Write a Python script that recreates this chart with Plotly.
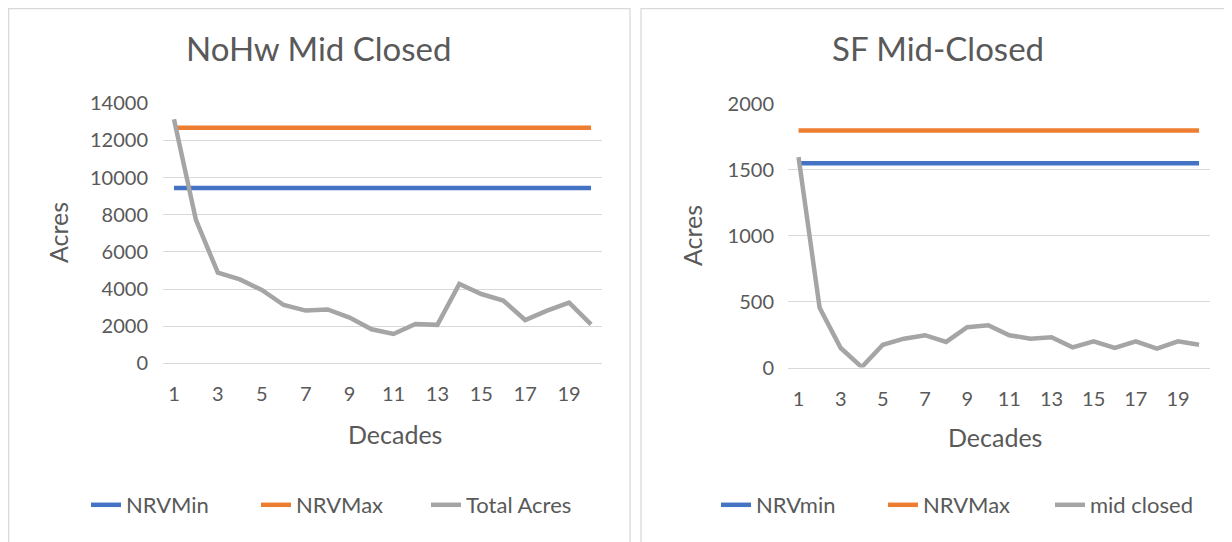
import plotly.graph_objects as go

# page body has an 8px margin; the figure fills the rest of the 1232x542 window
OFF = 8
W, H = 1232 - OFF, 542 - OFF

decades = list(range(1, 21))

# Left chart: NoHw Mid Closed
nohw_nrv_min = [9440] * 20
nohw_nrv_max = [12680] * 20
nohw_total_acres = [13140, 7720, 4880, 4520, 3950, 3140, 2840, 2900, 2460, 1830,
                    1580, 2120, 2070, 4270, 3730, 3380, 2330, 2840, 3270, 2100]

# Right chart: SF Mid-Closed
sf_nrv_min = [1550] * 20
sf_nrv_max = [1800] * 20
sf_mid_closed = [1597, 454, 148, 3, 173, 219, 245, 194, 306, 321,
                 245, 219, 230, 153, 199, 148, 199, 143, 199, 173]

left_ticks = [0, 2000, 4000, 6000, 8000, 10000, 12000, 14000]
right_ticks = [0, 500, 1000, 1500, 2000]
x_tick_vals = list(range(1, 21, 2))

BLUE, ORANGE, GRAY = "#4472C4", "#ED7D31", "#A5A5A5"
TEXT = "#595959"
GRID = "#D9D9D9"
FONT = "Lato"


def px(x):
    return (x - OFF) / W


def py(y):
    return 1 - (y - OFF) / H


fig = go.Figure()

series = [
    ("NRVMin", nohw_nrv_min, BLUE, "x", "y", "legend"),
    ("NRVMax", nohw_nrv_max, ORANGE, "x", "y", "legend"),
    ("Total Acres", nohw_total_acres, GRAY, "x", "y", "legend"),
    ("NRVmin", sf_nrv_min, BLUE, "x2", "y2", "legend2"),
    ("NRVMax", sf_nrv_max, ORANGE, "x2", "y2", "legend2"),
    ("mid closed", sf_mid_closed, GRAY, "x2", "y2", "legend2"),
]
for name, vals, color, xa, ya, lg in series:
    fig.add_trace(go.Scatter(
        x=decades, y=vals, name=name, mode="lines",
        line=dict(color=color, width=4.5),
        xaxis=xa, yaxis=ya, legend=lg, hoverinfo="skip",
    ))

axis_font = dict(family=FONT, size=20, color=TEXT)

xcommon = dict(
    range=[0.5, 20.5], tickmode="array", tickvals=x_tick_vals,
    ticktext=[str(v) for v in x_tick_vals],
    showgrid=False, zeroline=False, showline=True, linecolor=GRID, linewidth=1.3,
    ticks="", tickfont=axis_font, ticklabelstandoff=13, fixedrange=True,
    automargin=False,
)
ycommon = dict(
    tickmode="array", showgrid=True, gridcolor=GRID, gridwidth=1.3,
    zeroline=False, showline=False, ticks="", tickfont=axis_font,
    fixedrange=True, automargin=False,
)

fig.update_layout(
    width=W, height=H,
    margin=dict(l=0, r=0, t=0, b=0, autoexpand=False),
    paper_bgcolor="white", plot_bgcolor="white",
    showlegend=True,
    xaxis=dict(domain=[px(163), px(602)], anchor="y", **xcommon),
    yaxis=dict(domain=[py(363.3), py(103.3)], anchor="x", range=[0, 14000],
               tickvals=left_ticks, ticktext=[str(v) for v in left_ticks],
               ticklabelstandoff=14, **ycommon),
    xaxis2=dict(domain=[px(788), px(1209.6)], anchor="y2", **xcommon),
    yaxis2=dict(domain=[py(367.5), py(104.1)], anchor="x2", range=[0, 2000],
                tickvals=right_ticks, ticktext=[str(v) for v in right_ticks],
                ticklabelstandoff=13, **ycommon),
    legend=dict(orientation="h", x=px(86), y=py(505), xanchor="left", yanchor="middle",
                entrywidth=125, font=dict(family=FONT, size=22, color=TEXT),
                bgcolor="rgba(0,0,0,0)"),
    legend2=dict(orientation="h", x=px(716), y=py(505), xanchor="left", yanchor="middle",
                 entrywidth=122, font=dict(family=FONT, size=22, color=TEXT),
                 bgcolor="rgba(0,0,0,0)"),
    shapes=[
        dict(type="rect", xref="paper", yref="paper", x0=px(8.7), x1=px(630),
             y0=py(560), y1=py(8.7), line=dict(color=GRID, width=1.3), layer="below"),
        dict(type="rect", xref="paper", yref="paper", x0=px(641), x1=px(1250),
             y0=py(560), y1=py(8.7), line=dict(color=GRID, width=1.3), layer="below"),
    ],
    annotations=[
        dict(text="NoHw Mid Closed", x=px(318), y=py(48), xref="paper", yref="paper",
             showarrow=False, xanchor="center", yanchor="middle",
             font=dict(family=FONT, size=33, color=TEXT)),
        dict(text="SF Mid-Closed", x=px(938), y=py(48), xref="paper", yref="paper",
             showarrow=False, xanchor="center", yanchor="middle",
             font=dict(family=FONT, size=33, color=TEXT)),
        dict(text="Decades", x=px(395), y=py(434), xref="paper", yref="paper",
             showarrow=False, xanchor="center", yanchor="middle",
             font=dict(family=FONT, size=25, color=TEXT)),
        dict(text="Decades", x=px(995), y=py(437), xref="paper", yref="paper",
             showarrow=False, xanchor="center", yanchor="middle",
             font=dict(family=FONT, size=25, color=TEXT)),
        dict(text="Acres", x=px(58), y=py(233), xref="paper", yref="paper",
             showarrow=False, xanchor="center", yanchor="middle", textangle=-90,
             font=dict(family=FONT, size=25, color=TEXT)),
        dict(text="Acres", x=px(692), y=py(236), xref="paper", yref="paper",
             showarrow=False, xanchor="center", yanchor="middle", textangle=-90,
             font=dict(family=FONT, size=25, color=TEXT)),
    ],
)

fig.write_html("out.html")
